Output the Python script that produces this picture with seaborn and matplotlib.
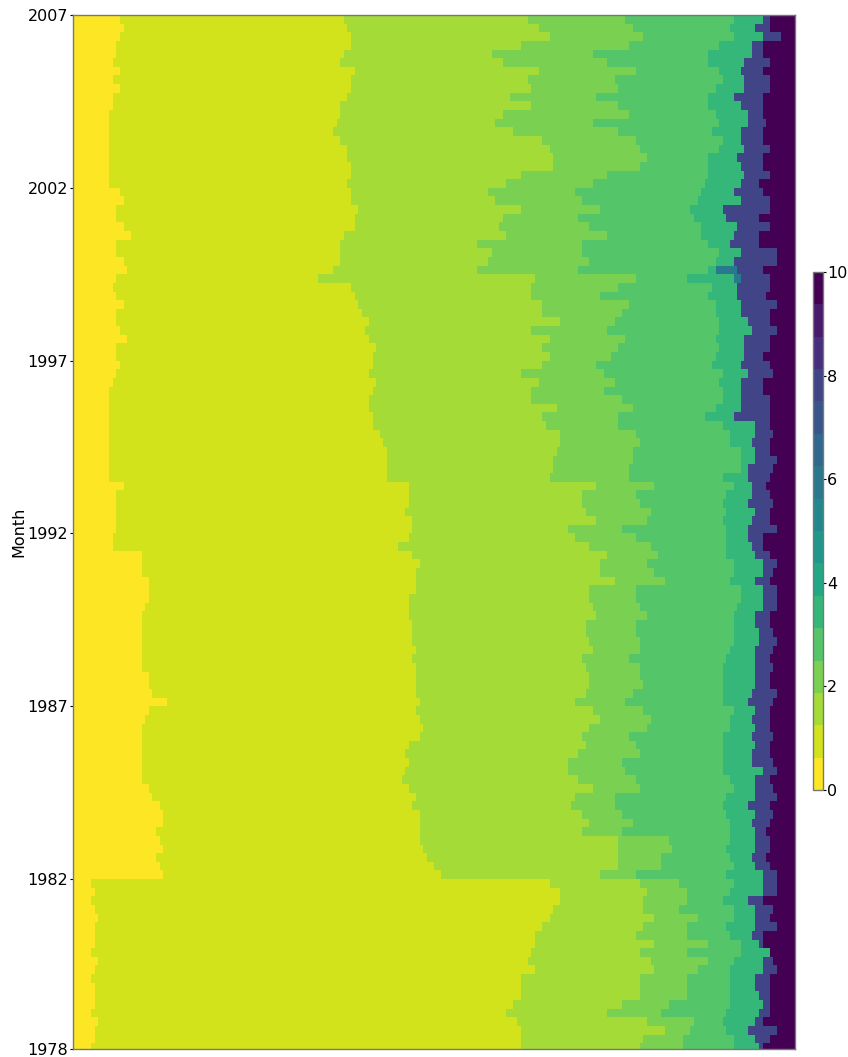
import numpy as np
import pandas as pd
import matplotlib
matplotlib.use('Agg')
import matplotlib.pyplot as plt
import seaborn as sns

# column where each colour band ends, one value per 3 rows (top row = 2007)
yellow_end = [13,14,13,12,12,11,13,11,13,11,11,10,10,10,10,10,10,
              10,10,10,13,14,12,12,14,16,12,12,14,15,12,11,12,14,
              12,12,13,15,12,12,13,12,11,10,10,10,10,10,10,10,10,
              10,10,10,14,12,12,12,12,12,11,11,19,19,19,21,21,21,
              20,19,19,19,19,19,19,19,21,21,22,26,21,20,19,19,19,
              19,19,19,19,21,22,24,25,25,23,24,25,23,24,25,5,6,
              5,6,7,6,6,6,5,7,6,5,6,6,6,5,7,6,6,5]
lime_end = [75,76,77,77,75,74,78,77,77,76,74,74,73,72,74,76,76,
            77,77,76,77,77,79,78,78,75,74,74,74,72,68,77,78,79,
            80,82,81,82,84,83,83,82,84,83,82,82,83,83,85,86,87,
            87,87,87,93,93,93,92,94,94,93,90,94,96,95,95,95,93,
            93,93,94,94,94,95,94,95,95,95,95,96,95,96,97,96,93,
            92,93,92,91,93,95,94,96,96,96,96,97,98,100,102,132,135,
            135,133,132,130,128,128,127,126,128,124,124,124,122,120,123,124,124,124]
leaf_end = [126,129,132,124,116,119,129,126,127,121,127,119,117,122,130,132,133,
            133,124,120,115,117,124,119,118,120,112,116,115,112,128,127,127,130,
            130,135,127,132,130,132,130,124,129,127,127,134,130,131,135,135,134,
            133,133,132,145,141,141,142,145,137,139,143,148,146,146,150,143,143,
            144,145,142,142,143,144,141,142,143,143,142,139,144,146,143,141,142,
            140,137,137,140,144,139,138,141,143,141,151,151,151,151,146,157,159,
            158,158,161,158,156,161,157,160,161,157,157,157,152,148,159,164,158,157]
light_green_end = [153,155,158,154,144,148,156,150,151,145,151,154,144,151,156,157,159,
                   157,148,144,139,141,146,140,143,148,141,141,143,140,156,151,146,154,
                   152,150,148,153,151,149,145,147,150,147,152,155,151,151,156,157,155,
                   155,154,154,161,156,157,160,159,152,156,160,162,159,161,164,156,156,
                   157,159,156,156,157,157,154,157,157,158,155,153,158,160,159,154,156,
                   157,152,153,156,157,150,150,152,155,152,165,166,163,163,156,168,170,
                   170,168,173,170,170,176,170,176,173,170,170,170,165,163,172,171,169,169]
green_end = [183,182,183,179,176,176,179,180,178,176,176,178,179,177,180,179,176,
             176,176,175,174,173,171,172,174,174,176,179,178,176,170,177,176,178,
             178,179,179,178,179,178,177,180,179,180,180,178,175,180,182,182,185,
             185,185,180,183,181,180,181,180,181,181,181,181,183,183,182,185,185,
             184,183,183,183,183,182,181,180,180,180,180,180,183,182,182,180,180,
             180,180,180,182,183,181,180,181,182,182,182,181,182,183,181,183,182,
             180,183,183,181,182,185,185,183,182,182,182,182,182,181,180,181,183,183]
sea_end = [191,189,191,188,188,186,185,186,186,183,185,187,187,185,185,186,184,
           185,186,185,183,185,180,181,184,183,182,185,183,178,183,184,184,185,
           185,187,188,186,186,186,185,187,185,185,185,185,183,189,189,188,189,
           189,187,187,188,188,187,189,188,187,187,188,189,191,191,189,191,191,
           191,189,189,190,190,189,189,189,189,189,188,187,189,188,189,188,189,
           188,188,191,189,189,189,187,189,188,189,189,189,188,189,191,191,191,
           187,189,189,189,188,190,193,191,191,189,189,190,191,190,189,187,189,190]
blue_end = [193,193,196,191,191,193,191,193,193,191,191,191,192,191,191,193,191,
            191,193,190,191,193,193,190,193,190,190,195,195,191,193,193,192,195,
            193,193,195,193,193,191,193,194,191,191,193,193,193,193,194,193,193,
            195,194,193,192,193,194,193,193,195,191,191,193,195,194,193,195,195,
            195,193,193,194,195,194,193,194,193,193,195,194,193,193,193,194,193,
            193,194,195,193,194,195,193,194,193,192,193,193,192,193,195,195,195,
            191,194,193,195,191,191,193,194,195,193,193,193,193,193,191,195,193,191]
teal_block = [29, 30]
teal_width = [6, 2]

band_values = [0.3, 0.9, 1.6, 2.2, 2.8, 3.4, 5.9, 7.8, 10]
year_labels = [2007, 2002, 1997, 1992, 1987, 1982, 1978]
year_rows = [0, 60, 120, 180, 240, 300, 359]

n_rows = 359
n_cols = 200

teal_end = list(sea_end)
for b, w in zip(teal_block, teal_width):
    teal_end[b] = sea_end[b] + w

bands = [yellow_end, lime_end, leaf_end, light_green_end, green_end, sea_end, teal_end, blue_end]
edges = np.array([np.repeat(b, 3)[:n_rows] for b in bands]).T

# each cell takes the value of the first band that has not ended yet
cols = np.arange(n_cols)
band_idx = (cols[None, :, None] >= edges[:, None, :]).sum(axis=2)
df = pd.DataFrame(np.array(band_values)[band_idx])

fig = plt.figure(figsize=(8.48, 10.57), dpi=100)
ax = fig.add_axes([73/848, 1 - 1049/1057, 722/848, 1034/1057])
cax = fig.add_axes([813/848, 1 - 790/1057, 10/848, 518/1057])

sns.heatmap(df, ax=ax, cbar_ax=cax, cmap=plt.get_cmap('viridis_r', 16), vmin=0, vmax=10,
            xticklabels=False, yticklabels=False)

ax.set_yticks(year_rows)
ax.set_yticklabels(year_labels, rotation=0, fontsize=11.5)
ax.set_ylabel('Month', fontsize=11.5, labelpad=0.5)
ax.set_xlabel('')
ax.tick_params(axis='y', length=2, width=0.8, pad=1.5)
for s in ax.spines.values():
    s.set_visible(True)
    s.set_color('#777777')
    s.set_linewidth(1)

cbar = ax.collections[0].colorbar
cbar.set_ticks([0, 2, 4, 6, 8, 10])
cbar.ax.tick_params(labelsize=11.5, length=2, width=0.8, pad=1)
cbar.outline.set_visible(True)
cbar.outline.set_edgecolor('#777777')
cbar.outline.set_linewidth(1)

fig.savefig('out.png', dpi=100)
